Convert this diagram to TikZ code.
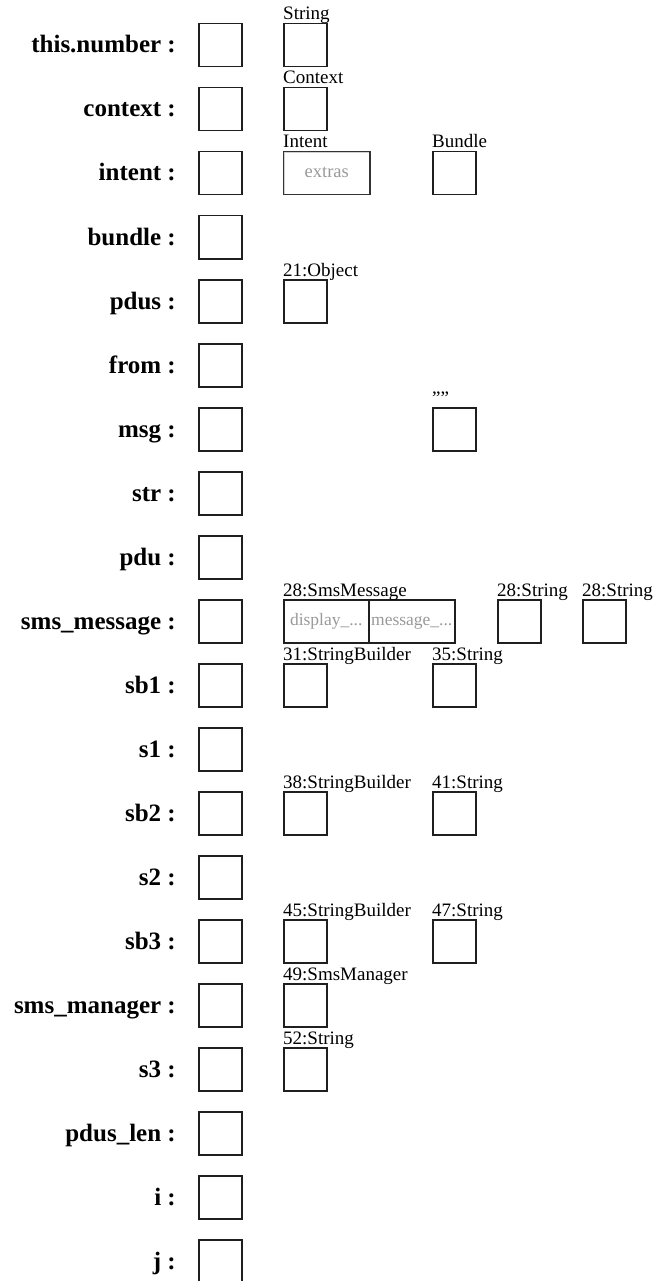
\documentclass[tikz,border=0pt]{standalone}
\usepackage{fontspec}
\setmainfont{Liberation Serif}
\begin{document}
\begin{tikzpicture}[x=1pt,y=-1pt,
 varlabel/.style={anchor=base east,font=\fontsize{25}{25}\selectfont\bfseries,inner sep=0pt},
 slot/.style={draw=black!88,line width=1.5pt,minimum width=43pt,minimum height=43pt,inner sep=0pt,anchor=north west},
 objlabel/.style={anchor=base west,font=\fontsize{19}{19}\selectfont,inner sep=0pt},
 fieldcell/.style={draw=black!88,line width=1.5pt,minimum height=43pt,inner sep=0pt,anchor=north west,text=black!40,font=\fontsize{17.5}{17.5}\selectfont,text height=12pt,text depth=4pt},
 shadowed/.style={path picture={\draw[black!88,line width=2pt] (path picture bounding box.south west) -- (path picture bounding box.south east);}},
]
\useasboundingbox (0,0) rectangle (653,1281);
\foreach \t [count=\i from 0] in {this.number,context,intent,bundle,pdus,from,msg,str,pdu,sms\_message,sb1,s1,sb2,s2,sb3,sms\_manager,s3,pdus\_len,i,j} {
  \node[slot] (slot\i) at (198,{23+64*\i}) {};
  \node[varlabel] (var\i) at (176,{53+64*\i}) {\t\ :};
}
\newcommand\objbox[5][]{%
  \node[slot,#1] (#2) at (#3,#4) {};
  \node[objlabel] (#2l) at (#3,{#4-3}) {#5};}
\objbox{ostring}{283}{23}{String}
\objbox[shadowed]{ocontext}{283}{87}{Context}
% Intent
\node[fieldcell,minimum width=86pt,draw=black!80,font=\fontsize{18.5}{18.5}\selectfont] (ointent) at (283,151) {extras};
\draw[black!18,line width=1.2pt] ([shift={(1.5pt,-1.5pt)}]ointent.north west) -- ([shift={(1.5pt,1.5pt)}]ointent.south west);
\draw[black!18,line width=1.2pt] ([shift={(1.5pt,-1.5pt)}]ointent.north west) -- ([shift={(-1.5pt,-1.5pt)}]ointent.north east);
\node[objlabel] (ointentl) at (283,148) {Intent};
\objbox{obundle}{432}{151}{Bundle}
\objbox[shadowed]{oobject}{283}{279}{21:Object}
\objbox{oempty}{432}{407}{\symbol{34}\symbol{34}}
% SmsMessage
\node[fieldcell,minimum width=85pt] (osmsa) at (283,599) {display\_...};
\node[fieldcell,minimum width=86pt] (osmsb) at (368,599) {message\_...};
\node[objlabel] (osmsl) at (283,596) {28:SmsMessage};
\objbox{ostr28a}{497}{599}{28:String}
\objbox{ostr28b}{582}{599}{28:String}
\objbox[shadowed]{osb31}{283}{663}{31:StringBuilder}
\objbox{ostr35}{432}{663}{35:String}
\objbox[shadowed]{osb38}{283}{791}{38:StringBuilder}
\objbox{ostr41}{432}{791}{41:String}
\objbox[shadowed]{osb45}{283}{919}{45:StringBuilder}
\objbox{ostr47}{432}{919}{47:String}
\objbox[shadowed]{osmgr}{283}{983}{49:SmsManager}
\objbox{ostr52}{283}{1047}{52:String}
\end{tikzpicture}
\end{document}
